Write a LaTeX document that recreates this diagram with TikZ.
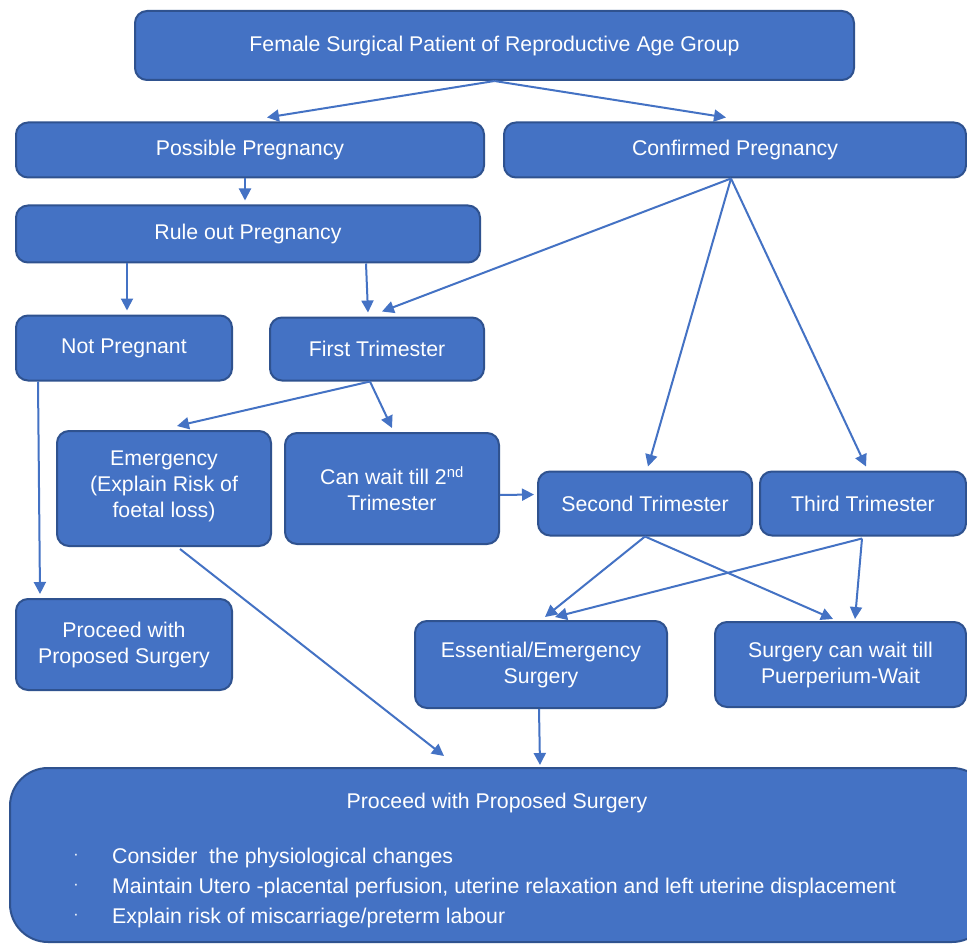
\documentclass[tikz,border=0pt]{standalone}
\usepackage{fontspec}
\setmainfont{Liberation Sans}
\usetikzlibrary{arrows.meta}
\definecolor{boxfill}{HTML}{4472C4}
\definecolor{boxline}{HTML}{2F528F}
\begin{document}
\begin{tikzpicture}[x=1pt,y=-1pt,
  box/.style={draw=boxline, line width=2pt, fill=boxfill, rounded corners=12pt,
    text=white, align=center, inner sep=0pt, font=\fontsize{21.3}{26}\selectfont},
  arr/.style={draw=boxfill, line width=2pt, -{Triangle[length=12pt,width=12pt]}},
  btext/.style={text=white, inner sep=0pt, font=\fontsize{21.3}{26}\selectfont},
  dot/.style={text=white, inner sep=0pt, font=\fontsize{16}{18}\selectfont}]
\path[use as bounding box, clip] (0,0) rectangle (967,944);
\fill[white] (0,0) rectangle (967,944);

\node[box, minimum width=719pt, minimum height=69pt] (top) at (494.5,45.5) {Female Surgical Patient of Reproductive Age Group};
\node[box, minimum width=468pt, minimum height=55pt] (poss) at (250,150) {Possible Pregnancy};
\node[box, minimum width=462pt, minimum height=55pt] (conf) at (735,150) {Confirmed Pregnancy};
\node[box, minimum width=464pt, minimum height=57pt] (rule) at (248,234) {Rule out Pregnancy};
\node[box, minimum width=216pt, minimum height=65pt] (notp) at (124,348) {Not Pregnant};
\node[box, minimum width=214pt, minimum height=63pt] (first) at (377,349) {First Trimester};
\node[box, minimum width=214pt, minimum height=115pt, text depth=8pt] (emer) at (164,488.5) {Emergency\\(Explain Risk of\\foetal loss)};
\node[box, minimum width=214pt, minimum height=111pt] (canw) at (392,488.5) {Can wait till 2\textsuperscript{nd}\\Trimester};
\node[box, minimum width=214pt, minimum height=64pt] (second) at (645,503.5) {Second Trimester};
\node[box, minimum width=206pt, minimum height=64pt] (third) at (863,503.5) {Third Trimester};
\node[box, minimum width=216pt, minimum height=91pt] (proc) at (124,644.5) {Proceed with\\Proposed Surgery};
\node[box, minimum width=252pt, minimum height=87pt] (ess) at (541,664.5) {Essential/Emergency\\Surgery};
\node[box, minimum width=251pt, minimum height=85pt] (wait) at (840.5,664.5) {Surgery can wait till\\Puerperium-Wait};
\node[box, rounded corners=38pt, minimum width=980pt, minimum height=174pt] (bot) at (500,855) {};

\node[btext] (bt) at (497,803) {Proceed with Proposed Surgery};
\node[btext, anchor=base west] (b1) at (112,863) {Consider\ \ the physiological changes};
\node[btext, anchor=base west] (b2) at (112,893) {Maintain Utero -placental perfusion, uterine relaxation and left uterine displacement};
\node[btext, anchor=base west] (b3) at (112,923) {Explain risk of miscarriage/preterm labour};
\node[dot] (d1) at (76,857) {\textperiodcentered};
\node[dot] (d2) at (76,887) {\textperiodcentered};
\node[dot] (d3) at (76,917) {\textperiodcentered};

\draw[arr] (top.south) -- ([xshift=17pt,yshift=4pt]poss.north);
\draw[arr] (top.south) -- ([xshift=-9pt,yshift=4pt]conf.north);
\draw[arr] ([xshift=-5pt]poss.south) -- ([xshift=-3pt,yshift=4pt]rule.north);
\draw[arr] ([xshift=-121pt]rule.south) -- ([xshift=3pt,yshift=4pt]notp.north);
\draw[arr] ([xshift=118pt]rule.south) -- ([xshift=-9pt,yshift=4pt]first.north);
\draw[arr] ([xshift=-4pt]conf.south) -- ([xshift=5pt,yshift=5pt]first.north);
\draw[arr] ([xshift=-4pt]conf.south) -- ([xshift=3pt,yshift=4pt]second.north);
\draw[arr] ([xshift=-4pt]conf.south) -- ([xshift=3pt,yshift=4pt]third.north);
\draw[arr] ([xshift=-86pt]notp.south) -- ([xshift=-84pt,yshift=4pt]proc.north);
\draw[arr] ([xshift=-7pt]first.south) -- ([xshift=13pt,yshift=4pt]emer.north);
\draw[arr] ([xshift=-7pt]first.south) -- ([xshift=0pt,yshift=4pt]canw.north);
\draw[arr] ([yshift=-6.5pt]canw.east) -- ([xshift=-3pt,yshift=9pt]second.west);
\draw[arr] ([xshift=16pt,yshift=-2pt]emer.south) -- ([xshift=-56pt,yshift=11pt]bot.north);
\draw[arr] (second.south) -- ([xshift=4pt,yshift=3pt]ess.north);
\draw[arr] (second.south) -- ([xshift=-7.5pt,yshift=2pt]wait.north);
\draw[arr] ([xshift=-1pt,yshift=-2pt]third.south) -- ([xshift=14pt,yshift=3pt]ess.north);
\draw[arr] ([xshift=-1pt,yshift=-2pt]third.south) -- ([xshift=14.5pt,yshift=2pt]wait.north);
\draw[arr] ([xshift=-2pt]ess.south) -- ([xshift=40pt,yshift=2pt]bot.north);
\end{tikzpicture}
\end{document}
